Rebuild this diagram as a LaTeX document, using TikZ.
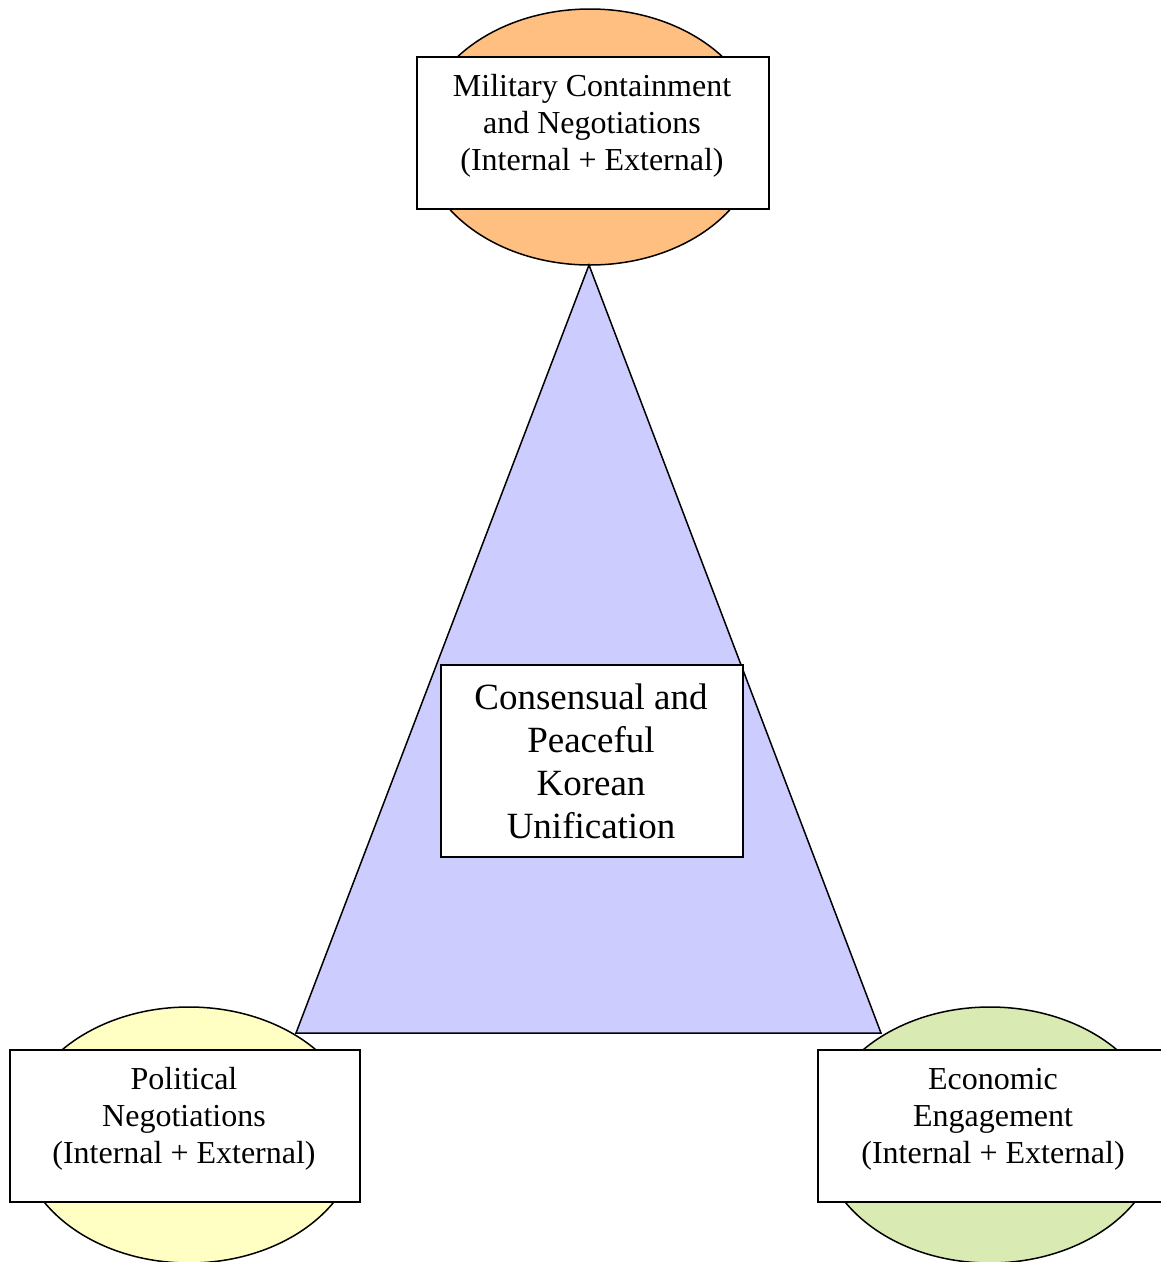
\documentclass[tikz,border=0pt]{standalone}
\usepackage{fontspec}
\setmainfont{Liberation Serif}
\usetikzlibrary{shapes.geometric}
\definecolor{milorange}{RGB}{255,191,128}
\definecolor{polyellow}{RGB}{255,255,196}
\definecolor{ecogreen}{RGB}{217,234,178}
\definecolor{trifill}{RGB}{204,204,255}
\tikzset{
  oval/.style={ellipse, draw=black, line width=1.5pt, minimum width=340pt, minimum height=256pt, inner sep=0pt},
  box/.style={draw=black, fill=white, line width=1.5pt, inner sep=0pt, anchor=north west},
  lbl/.style={align=center, font=\fontsize{32}{37}\selectfont, inner sep=0pt},
  biglbl/.style={align=center, font=\fontsize{37}{43}\selectfont, inner sep=0pt},
}
\begin{document}
\begin{tikzpicture}[x=1pt,y=-1pt]
\useasboundingbox (0,0) rectangle (1161,1262);
\clip (0,0) rectangle (1161,1262);
% ovals
\node[oval, fill=milorange] (topoval) at (590,137) {};
\node[oval, fill=polyellow] (leftoval) at (189,1135) {};
\node[oval, fill=ecogreen] (rightoval) at (990,1135) {};
% triangle
\coordinate (apex) at (589,265);
\coordinate (bl) at (296,1033);
\coordinate (br) at (881,1033);
\draw[fill=trifill, line width=1.5pt, line join=miter] (apex) -- (br) -- (bl) -- cycle;
% boxes
\node[box, minimum width=352pt, minimum height=152pt] (topbox) at (416,56) {};
\node[box, minimum width=302pt, minimum height=192pt] (centerbox) at (440,664) {};
\node[box, minimum width=350pt, minimum height=152pt] (leftbox) at (9,1049) {};
\node[box, minimum width=360pt, minimum height=152pt] (rightbox) at (817,1049) {};
% labels
\node[lbl] (toptext) at (592,126) {Military Containment\\and Negotiations\\(Internal + External)};
\node[biglbl] (centertext) at (591,761) {Consensual and\\Peaceful\\Korean\\Unification};
\node[lbl] (lefttext) at (184,1119) {Political\\Negotiations\\(Internal + External)};
\node[lbl] (righttext) at (993,1119) {Economic\\Engagement\\(Internal + External)};
\end{tikzpicture}
\end{document}
